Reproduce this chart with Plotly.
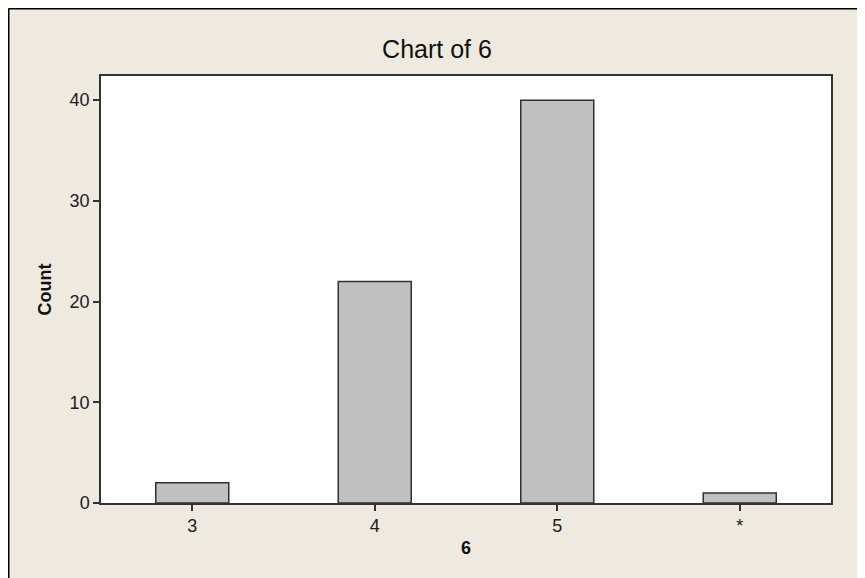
import plotly.graph_objects as go

categories = ["3", "4", "5", "*"]
counts = [2, 22, 40, 1]
y_ticks = [0, 10, 20, 30, 40]

BEIGE = "#EEEAE0"
FONT = "Liberation Sans"

fig = go.Figure(
    go.Bar(
        x=categories,
        y=counts,
        width=0.4,
        marker=dict(color="#C0C0C0", line=dict(color="#303030", width=1.5)),
    )
)

# page body has an 8px margin; figure fills the rest of the 865x578 window
W, H = 857, 570
L, R, T, B = 93, 34, 68, 75
pw, ph = W - L - R, H - T - B
fx = lambda px: (px - L) / pw
fy = lambda py: 1 + (T - py) / ph

fig.update_layout(
    width=W,
    height=H,
    margin=dict(l=L, r=R, t=T, b=B),
    paper_bgcolor=BEIGE,
    plot_bgcolor="white",
    showlegend=False,
    font=dict(family=FONT, size=18, color="#202020"),
    title=dict(
        text="Chart of 6",
        x=429 / W,
        xref="container",
        xanchor="center",
        y=1 - 41 / H,
        yref="container",
        yanchor="middle",
        font=dict(family=FONT, size=25, color="#111111"),
    ),
    xaxis=dict(
        type="category",
        categoryorder="array",
        categoryarray=categories,
        range=[-0.5, 3.5],
        showline=True,
        mirror=True,
        linecolor="#333333",
        linewidth=1.5,
        ticks="outside",
        ticklen=6,
        tickcolor="#333333",
        tickwidth=1.5,
        showgrid=False,
        title=dict(text="<b>6</b>", font=dict(family=FONT, size=18, color="#111111"), standoff=6),
    ),
    yaxis=dict(
        range=[0, 42.4],
        tickvals=y_ticks,
        showline=True,
        mirror=True,
        linecolor="#333333",
        linewidth=1.5,
        ticks="outside",
        ticklen=6,
        tickcolor="#333333",
        tickwidth=1.5,
        showgrid=False,
        zeroline=False,
        title=dict(text="<b>Count</b>", font=dict(family=FONT, size=18, color="#111111"), standoff=13),
    ),
    shapes=[
        dict(type="line", xref="paper", yref="paper", x0=fx(0.5), x1=fx(W + 5), y0=fy(0.5), y1=fy(0.5),
             line=dict(color="black", width=2)),
        dict(type="line", xref="paper", yref="paper", x0=fx(0.5), x1=fx(0.5), y0=fy(H + 5), y1=fy(0.5),
             line=dict(color="black", width=2)),
    ],
)

fig.write_html("out.html")
